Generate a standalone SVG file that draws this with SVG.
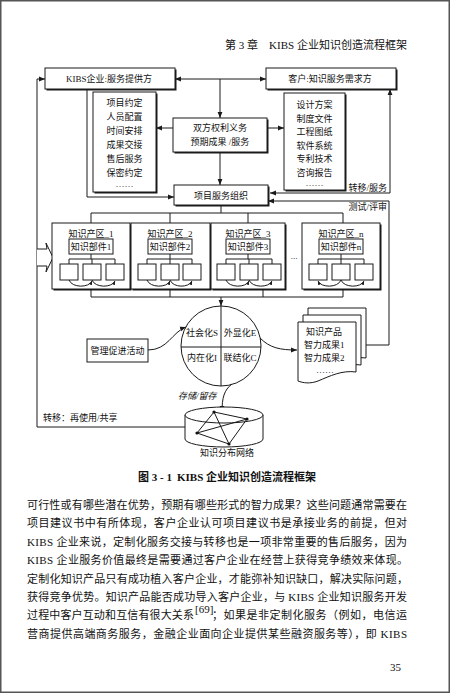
<svg xmlns="http://www.w3.org/2000/svg" width="450" height="693" viewBox="0 0 450 693">
<defs>
<style>
.ln{stroke:#1a1a1a;stroke-width:1;fill:none}
.bx{fill:#fff;stroke:#1a1a1a;stroke-width:1}
.sh{fill:#1a1a1a}
.t{font-family:'Liberation Serif','Noto Sans CJK SC',serif;font-size:9px;fill:#111}
.c{text-anchor:middle}
.p{font-family:'Liberation Serif','Noto Sans CJK SC',serif;font-size:11px;fill:#111}
</style>
<marker id="ah" viewBox="0 0 10 10" refX="10" refY="5" markerWidth="6" markerHeight="6" orient="auto-start-reverse" markerUnits="userSpaceOnUse"><path d="M0,1 L10,5 L0,9 z" fill="#1a1a1a"/></marker>
<marker id="sa" viewBox="0 0 10 10" refX="10" refY="5" markerWidth="4" markerHeight="4" orient="auto-start-reverse" markerUnits="userSpaceOnUse"><path d="M0,1 L10,5 L0,9 z" fill="#1a1a1a"/></marker>
</defs>
<rect x="0.75" y="0.75" width="448.5" height="691.5" fill="#fff" stroke="#555" stroke-width="1.5"/>

<g id="header">
<text class="p" x="225" y="49">第 3 章</text>
<text class="p" x="269" y="49" textLength="138" lengthAdjust="spacing">KIBS 企业知识创造流程框架</text>
</g>

<g id="connectors">
<path class="ln" d="M175,79 H266" marker-start="url(#ah)" marker-end="url(#ah)"/>
<path class="ln" d="M220,79 V118" marker-end="url(#ah)"/>
<path class="ln" d="M173,128 H156" marker-end="url(#ah)"/>
<path class="ln" d="M267,128 H284" marker-end="url(#ah)"/>
<path class="ln" d="M220,152 V185" marker-end="url(#ah)"/>
<path class="ln" d="M87,89 V197 H174" marker-end="url(#ah)"/>
<path class="ln" d="M270,193 H390 V89" marker-start="url(#ah)" marker-end="url(#ah)"/>
<path class="ln" d="M366,345 H389 V201 H268" marker-end="url(#ah)"/>
<path class="ln" d="M221,205 V213 M91,213 H343 M91,213 V223 M170,213 V223 M248,213 V223 M343,213 V223"/>
<path class="ln" d="M91,289 V297 M170,289 V297 M263,289 V297 M343,289 V297 M91,297 H343"/>
<path class="ln" d="M221,297 V306" marker-end="url(#ah)"/>
<path class="ln" d="M186,427 H37 V79 H45" marker-end="url(#ah)"/>
<path d="M37,249 H47 L46,243 L53,257.5 L46,272 L47,266 H37" fill="#fff" stroke="#1a1a1a" stroke-width="1"/>
<path class="ln" d="M148,350 C168,350 172,332 186,327" marker-end="url(#ah)"/>
<path class="ln" d="M260,338 C270,348 280,350 297,350" marker-end="url(#ah)"/>
<path class="ln" d="M232,384 C224,390 222,398 222,412" marker-end="url(#ah)"/>
<text class="t" x="387" y="190.5" text-anchor="end">转移/服务</text>
<text class="t" x="387" y="209.5" text-anchor="end">测试/评审</text>
<text class="t" x="43" y="421">转移：再使用/共享</text>
<text class="t" x="178" y="399" font-style="italic">存储/留存</text>
</g>

<g id="provider">
<rect class="sh" x="46.5" y="69.5" width="130" height="21"/>
<rect class="bx" x="45" y="68" width="130" height="21"/>
<text class="t c" x="109" y="82">KIBS企业:服务提供方</text>
</g>

<g id="client">
<rect class="sh" x="267.5" y="69.5" width="130" height="21"/>
<rect class="bx" x="266" y="68" width="130" height="21"/>
<text class="t c" x="330" y="82">客户:知识服务需求方</text>
</g>

<g id="rights">
<rect class="sh" x="174.5" y="119.5" width="94" height="34"/>
<rect class="bx" x="173" y="118" width="94" height="34"/>
<text class="t c" x="220" y="131">双方权利义务</text>
<text class="t c" x="220" y="145">预期成果 /服务</text>
</g>

<g id="agreements">
<rect class="sh" x="94.5" y="93.5" width="63" height="100"/>
<rect class="bx" x="93" y="92" width="63" height="100"/>
<text class="t c" x="124.5" y="106.3">项目约定</text>
<text class="t c" x="124.5" y="120.3">人员配置</text>
<text class="t c" x="124.5" y="134">时间安排</text>
<text class="t c" x="124.5" y="148">成果交接</text>
<text class="t c" x="124.5" y="162">售后服务</text>
<text class="t c" x="124.5" y="176">保密约定</text>
<text class="t c" x="124.5" y="187">……</text>
</g>

<g id="deliverables">
<rect class="sh" x="285.5" y="94.5" width="61" height="97"/>
<rect class="bx" x="284" y="93" width="61" height="97"/>
<text class="t c" x="314.5" y="108">设计方案</text>
<text class="t c" x="314.5" y="122">制度文件</text>
<text class="t c" x="314.5" y="135">工程图纸</text>
<text class="t c" x="314.5" y="148.5">软件系统</text>
<text class="t c" x="314.5" y="162">专利技术</text>
<text class="t c" x="314.5" y="176">咨询报告</text>
<text class="t c" x="314.5" y="186">……</text>
</g>

<g id="org">
<rect class="sh" x="175.5" y="186.5" width="94" height="20"/>
<rect class="bx" x="174" y="185" width="94" height="20"/>
<text class="t c" x="221" y="198.5">项目服务组织</text>
</g>

<g id="zone1">
<rect class="sh" x="53.5" y="224.5" width="78" height="66"/>
<rect class="bx" x="52" y="223" width="78" height="66"/>
<text class="t c" x="91" y="236.5">知识产区_1</text>
<rect class="bx" x="69" y="239" width="44" height="15"/>
<text class="t c" x="91" y="250">知识部件1</text>
<path class="ln" d="M91,254 V259 M69,264 V259 H115 V264 M92,259 V264"/>
<rect class="bx" x="60" y="264" width="18" height="16"/>
<rect class="bx" x="83" y="264" width="18" height="16"/>
<rect class="bx" x="106" y="264" width="18" height="16"/>
<path class="ln" d="M69,280 C72,288 89,288 92,281" marker-end="url(#sa)"/>
<path class="ln" d="M92,280 C95,288 112,288 115,281" marker-end="url(#sa)"/>
</g>

<g id="zone2">
<rect class="sh" x="132.5" y="224.5" width="79" height="66"/>
<rect class="bx" x="131" y="223" width="79" height="66"/>
<text class="t c" x="170" y="236.5">知识产区_2</text>
<rect class="bx" x="148" y="239" width="44" height="15"/>
<text class="t c" x="170" y="250">知识部件2</text>
<path class="ln" d="M170,254 V259 M147,264 V259 H192 V264 M170,259 V264"/>
<rect class="bx" x="138" y="264" width="18" height="16"/>
<rect class="bx" x="161" y="264" width="18" height="16"/>
<rect class="bx" x="183" y="264" width="18" height="16"/>
<path class="ln" d="M147,280 C150,288 167,288 170,281" marker-end="url(#sa)"/>
<path class="ln" d="M170,280 C173,288 189,288 192,281" marker-end="url(#sa)"/>
</g>

<g id="zone3">
<rect class="sh" x="212.5" y="224.5" width="74" height="66"/>
<rect class="bx" x="211" y="223" width="74" height="66"/>
<text class="t c" x="248" y="236.5">知识产区_3</text>
<rect class="bx" x="226" y="239" width="44" height="15"/>
<text class="t c" x="248" y="250">知识部件3</text>
<path class="ln" d="M248,254 V259 M226,264 V259 H272 V264 M249,259 V264"/>
<rect class="bx" x="217" y="264" width="18" height="16"/>
<rect class="bx" x="240" y="264" width="18" height="16"/>
<rect class="bx" x="263" y="264" width="18" height="16"/>
<path class="ln" d="M226,280 C229,288 246,288 249,281" marker-end="url(#sa)"/>
<path class="ln" d="M249,280 C252,288 269,288 272,281" marker-end="url(#sa)"/>
</g>

<text class="t c" x="294" y="259">...</text>

<g id="zonen">
<rect class="sh" x="303.5" y="224.5" width="78" height="66"/>
<rect class="bx" x="302" y="223" width="78" height="66"/>
<text class="t c" x="341" y="236.5">知识产区_n</text>
<rect class="bx" x="319" y="239" width="44" height="15"/>
<text class="t c" x="341" y="250">知识部件n</text>
<path class="ln" d="M341,254 V259 M318,264 V259 H364 V264 M341,259 V264"/>
<rect class="bx" x="309" y="264" width="18" height="16"/>
<rect class="bx" x="332" y="264" width="18" height="16"/>
<rect class="bx" x="355" y="264" width="18" height="16"/>
<path class="ln" d="M341,280 C338,288 321,288 318,281" marker-end="url(#sa)"/>
<path class="ln" d="M341,280 C344,288 361,288 364,281" marker-end="url(#sa)"/>
</g>

<g id="seci">
<circle class="ln" cx="221" cy="346" r="40"/>
<path class="ln" d="M181,347 H261 M221,306 V386"/>
<text class="t c" x="202" y="336">社会化S</text>
<text class="t c" x="240" y="336">外显化E</text>
<text class="t c" x="202" y="361">内在化I</text>
<text class="t c" x="240" y="361">联结化C</text>
</g>

<g id="mgmt">
<rect class="bx" x="87" y="339" width="61" height="23"/>
<text class="t c" x="117.5" y="354">管理促进活动</text>
</g>

<g id="products">
<path class="bx" d="M308,308 H366 V358 C352,356 340,362 328,367 L308,367 Z"/>
<path class="bx" d="M303,315 H361 V365 C347,363 335,369 323,374 L303,374 Z"/>
<path class="bx" d="M298,322 H356 V372 C342,370 330,376 318,381 C310,384 303,383 298,381 Z"/>
<text class="t" x="306" y="335">知识产品</text>
<text class="t" x="304" y="348">智力成果1</text>
<text class="t" x="304" y="360.5">智力成果2</text>
<text class="t" x="316" y="373">……</text>
</g>

<g id="network">
<path class="bx" d="M185,415 V439 A39,8 0 0 0 263,439 V415"/>
<ellipse class="bx" cx="224" cy="415" rx="39" ry="8"/>
<path class="ln" d="M214,412 L197,433 M214,412 L247,419 M214,412 L229,444 M197,433 L247,419 M197,433 L229,444 M247,419 L229,444" stroke-width="0.9"/>
<circle cx="214" cy="412" r="1.6" fill="#111"/>
<circle cx="197" cy="433" r="1.6" fill="#111"/>
<circle cx="247" cy="419" r="1.6" fill="#111"/>
<circle cx="229" cy="444" r="1.6" fill="#111"/>
<text class="t c" x="227" y="456">知识分布网络</text>
</g>

<g id="caption">
<text class="p" x="138" y="481" font-weight="bold" font-size="10">图 3 - 1</text>
<text class="p" x="177" y="481" font-weight="bold" font-size="9.5">KIBS 企业知识创造流程框架</text>
</g>

<g id="body">
<text class="p" x="27" y="509" textLength="380" lengthAdjust="spacing">可行性或有哪些潜在优势，预期有哪些形式的智力成果？这些问题通常需要在</text>
<text class="p" x="27" y="527.4" textLength="380" lengthAdjust="spacing">项目建议书中有所体现，客户企业认可项目建议书是承接业务的前提，但对</text>
<text class="p" x="27" y="545.8" textLength="380" lengthAdjust="spacing">KIBS 企业来说，定制化服务交接与转移也是一项非常重要的售后服务，因为</text>
<text class="p" x="27" y="564.2" textLength="381" lengthAdjust="spacing">KIBS 企业服务价值最终是需要通过客户企业在经营上获得竞争绩效来体现。</text>
<text class="p" x="27" y="582.6" textLength="381" lengthAdjust="spacing">定制化知识产品只有成功植入客户企业，才能弥补知识缺口，解决实际问题，</text>
<text class="p" x="27" y="601" textLength="380" lengthAdjust="spacing">获得竞争优势。知识产品能否成功导入客户企业，与 KIBS 企业知识服务开发</text>
<text class="p" x="27" y="619.4" textLength="167" lengthAdjust="spacing">过程中客户互动和互信有很大关系</text>
<text class="p" x="195" y="612.5" font-size="5.5">[69]</text>
<text class="p" x="212" y="619.4" textLength="195" lengthAdjust="spacing">；如果是非定制化服务（例如，电信运</text>
<text class="p" x="27" y="637.8" textLength="380" lengthAdjust="spacing">营商提供高端商务服务，金融企业面向企业提供某些融资服务等），即 KIBS</text>
<text class="p" x="390" y="671">35</text>
</g>
</svg>
